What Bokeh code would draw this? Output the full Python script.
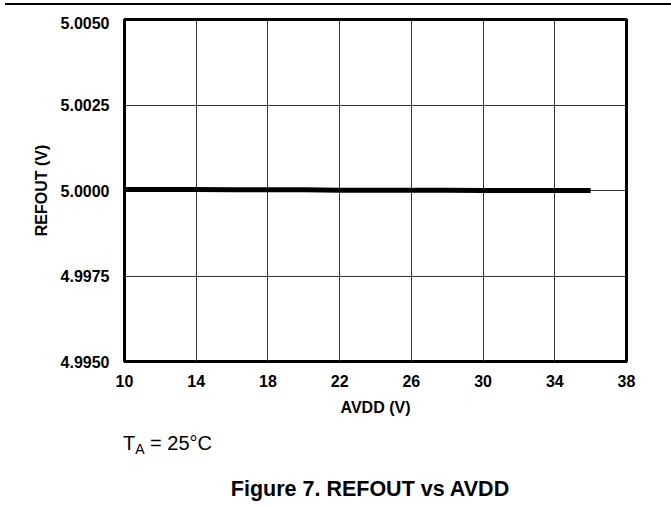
from bokeh.plotting import figure
from bokeh.models import Range1d, FixedTicker, NumeralTickFormatter, Div
from bokeh.layouts import column
from bokeh.embed import file_html
from bokeh.resources import INLINE

# data
avdd = [10, 12, 14, 16, 18, 20, 22, 24, 26, 28, 30, 32, 34, 36]
refout = [5.00003, 5.00003, 5.00003, 5.00002, 5.00002, 5.00002, 5.00001,
          5.00001, 5.00001, 5.00001, 5.00000, 5.00000, 5.00000, 5.00000]
x_ticks = [10, 14, 18, 22, 26, 30, 34, 38]
y_ticks = [4.995, 4.9975, 5.0, 5.0025, 5.005]

FONT = "Liberation Sans"

p = figure(width=671, height=410, output_backend="svg", toolbar_location=None,
           x_range=Range1d(10, 38), y_range=Range1d(4.995, 5.005),
           min_border_left=124, min_border_right=45, min_border_top=3,
           min_border_bottom=65)
p.background_fill_color = "white"
p.border_fill_color = "white"
p.outline_line_color = "black"
p.outline_line_width = 3

p.line(avdd, refout, line_color="black", line_width=5)

p.xaxis.ticker = FixedTicker(ticks=x_ticks)
p.yaxis.ticker = FixedTicker(ticks=y_ticks)
p.yaxis.formatter = NumeralTickFormatter(format="0.0000")

for ax in (p.xaxis[0], p.yaxis[0]):
    ax.axis_line_color = None
    ax.major_tick_line_color = None
    ax.minor_tick_line_color = None
    ax.major_label_text_font = FONT
    ax.major_label_text_font_style = "bold"
    ax.major_label_text_font_size = "16px"
    ax.major_label_text_color = "black"
    ax.axis_label_text_font = FONT
    ax.axis_label_text_font_style = "bold"
    ax.axis_label_text_font_size = "16px"
    ax.axis_label_text_color = "black"

p.xaxis.axis_label = "AVDD (V)"
p.yaxis.axis_label = "REFOUT (V)"
p.xaxis.major_label_standoff = 7
p.yaxis.major_label_standoff = 9
p.xaxis.axis_label_standoff = 9
p.yaxis.axis_label_standoff = 8

p.xgrid.ticker = FixedTicker(ticks=x_ticks)
p.ygrid.ticker = FixedTicker(ticks=y_ticks)
p.grid.grid_line_color = "#333333"
p.grid.grid_line_width = 1

rule = Div(width=671, height=6,
           text='<div style="position:absolute;left:0;top:-2px;width:671px;'
                'height:2px;background:#000"></div>')

note_html = (
    '<div style="position:relative;width:671px;height:76px;'
    'font-family:\'Liberation Sans\';color:#000">'
    '<div style="position:absolute;left:118px;top:2px;font-size:20px;'
    'line-height:1;white-space:nowrap">T<span style="font-size:14px;'
    'position:relative;top:4px">A</span> = 25°C</div>'
    '<div style="position:absolute;left:0;top:48px;width:730px;'
    'text-align:center;font-size:21.5px;font-weight:bold;line-height:1;'
    'white-space:nowrap">Figure 7. REFOUT vs AVDD</div>'
    '</div>'
)
notes = Div(width=671, height=76, text=note_html)

layout = column(rule, p, notes, spacing=0)

open("out.html", "w").write(file_html(layout, INLINE))
